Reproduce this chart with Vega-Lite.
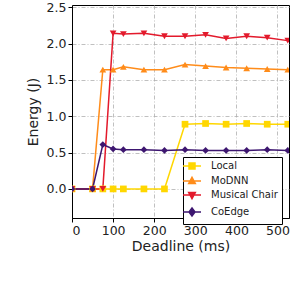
{
  "$schema": "https://vega.github.io/schema/vega-lite/v6.json",
  "width": 217,
  "height": 213,
  "autosize": {"type": "none"},
  "padding": {"left": 72, "top": 5, "right": 1, "bottom": 72},
  "background": "white",
  "config": {
    "font": "DejaVu Sans",
    "view": {"stroke": "black", "strokeWidth": 1},
    "axis": {
      "labelFont": "DejaVu Sans", "titleFont": "DejaVu Sans",
      "labelFontSize": 12.5, "titleFontSize": 14, "titleFontWeight": "normal",
      "labelColor": "#222", "titleColor": "#222",
      "domainColor": "black", "tickColor": "black", "tickSize": 4,
      "gridColor": "#b0b0b0", "gridDash": [4, 2, 1, 2], "gridWidth": 0.8,
      "labelPadding": 2
    }
  },
  "data": {"values": [
    {"d": 0, "s": "Local", "e": 0}, {"d": 50, "s": "Local", "e": 0}, {"d": 75, "s": "Local", "e": 0}, {"d": 100, "s": "Local", "e": 0}, {"d": 125, "s": "Local", "e": 0}, {"d": 175, "s": "Local", "e": 0}, {"d": 225, "s": "Local", "e": 0}, {"d": 275, "s": "Local", "e": 0.89}, {"d": 325, "s": "Local", "e": 0.9}, {"d": 375, "s": "Local", "e": 0.89}, {"d": 425, "s": "Local", "e": 0.9}, {"d": 475, "s": "Local", "e": 0.89}, {"d": 525, "s": "Local", "e": 0.89},
    {"d": 0, "s": "MoDNN", "e": 0}, {"d": 50, "s": "MoDNN", "e": 0}, {"d": 75, "s": "MoDNN", "e": 1.64}, {"d": 100, "s": "MoDNN", "e": 1.64}, {"d": 125, "s": "MoDNN", "e": 1.68}, {"d": 175, "s": "MoDNN", "e": 1.64}, {"d": 225, "s": "MoDNN", "e": 1.64}, {"d": 275, "s": "MoDNN", "e": 1.71}, {"d": 325, "s": "MoDNN", "e": 1.69}, {"d": 375, "s": "MoDNN", "e": 1.67}, {"d": 425, "s": "MoDNN", "e": 1.66}, {"d": 475, "s": "MoDNN", "e": 1.65}, {"d": 525, "s": "MoDNN", "e": 1.64},
    {"d": 0, "s": "Musical Chair", "e": 0}, {"d": 50, "s": "Musical Chair", "e": 0}, {"d": 75, "s": "Musical Chair", "e": 0}, {"d": 100, "s": "Musical Chair", "e": 2.14}, {"d": 125, "s": "Musical Chair", "e": 2.13}, {"d": 175, "s": "Musical Chair", "e": 2.14}, {"d": 225, "s": "Musical Chair", "e": 2.1}, {"d": 275, "s": "Musical Chair", "e": 2.1}, {"d": 325, "s": "Musical Chair", "e": 2.12}, {"d": 375, "s": "Musical Chair", "e": 2.07}, {"d": 425, "s": "Musical Chair", "e": 2.1}, {"d": 475, "s": "Musical Chair", "e": 2.08}, {"d": 525, "s": "Musical Chair", "e": 2.04},
    {"d": 0, "s": "CoEdge", "e": 0}, {"d": 50, "s": "CoEdge", "e": 0}, {"d": 75, "s": "CoEdge", "e": 0.61}, {"d": 100, "s": "CoEdge", "e": 0.55}, {"d": 125, "s": "CoEdge", "e": 0.54}, {"d": 175, "s": "CoEdge", "e": 0.54}, {"d": 225, "s": "CoEdge", "e": 0.53}, {"d": 275, "s": "CoEdge", "e": 0.54}, {"d": 325, "s": "CoEdge", "e": 0.53}, {"d": 375, "s": "CoEdge", "e": 0.53}, {"d": 425, "s": "CoEdge", "e": 0.53}, {"d": 475, "s": "CoEdge", "e": 0.54}, {"d": 525, "s": "CoEdge", "e": 0.53}
  ]},
  "encoding": {
    "x": {"field": "d", "type": "quantitative", "title": "Deadline (ms)",
      "scale": {"domain": [0, 528], "nice": false, "zero": false},
      "axis": {"values": [0, 100, 200, 300, 400, 500], "titlePadding": 3}},
    "y": {"field": "e", "type": "quantitative", "title": "Energy (J)",
      "scale": {"domain": [-0.4, 2.53], "nice": false, "zero": false},
      "axis": {"values": [0, 0.5, 1, 1.5, 2, 2.5], "format": ".1f", "titlePadding": 6}},
    "color": {"field": "s", "type": "nominal", "title": null,
      "scale": {"domain": ["Local", "MoDNN", "Musical Chair", "CoEdge"], "range": ["#FFD700", "#FF8C1A", "#E31A2C", "#3D1670"]},
      "legend": {"orient": "none", "legendX": 111, "legendY": 152, "fillColor": "white", "strokeColor": "black", "padding": 4, "cornerRadius": 0, "labelFont": "DejaVu Sans", "labelFontSize": 10, "labelColor": "#222", "symbolSize": 36, "rowPadding": 2, "symbolStrokeWidth": 1.5, "symbolOpacity": 1, "labelOffset": 14, "symbolOffset": 0,
        "encode": {"symbols": {"update": {
          "shape": {"signal": "datum.value === 'Local' ? 'M-3,0H3M-1,-1H1V1H-1Z' : datum.value === 'MoDNN' ? 'M-3,0H3M0,-1.2L1.1,0.8H-1.1Z' : datum.value === 'Musical Chair' ? 'M-3,0H3M0,1.2L1.1,-0.8H-1.1Z' : 'M-3,0H3M0,-1.35L1,0L0,1.35L-1,0Z'"},
          "stroke": {"scale": "color", "field": "value"},
          "fill": {"scale": "color", "field": "value"}
        }}}}}
  },
  "layer": [
    {"mark": {"type": "line", "strokeWidth": 1.5, "clip": true}},
    {"transform": [{"filter": "datum.s === 'Local'"}], "mark": {"type": "point", "shape": "square", "filled": true, "size": 45, "opacity": 1, "clip": true}},
    {"transform": [{"filter": "datum.s === 'MoDNN'"}], "mark": {"type": "point", "shape": "triangle-up", "filled": true, "size": 45, "opacity": 1, "clip": true}},
    {"transform": [{"filter": "datum.s === 'Musical Chair'"}], "mark": {"type": "point", "shape": "triangle-down", "filled": true, "size": 45, "opacity": 1, "clip": true}},
    {"transform": [{"filter": "datum.s === 'CoEdge'"}], "mark": {"type": "point", "shape": "diamond", "filled": true, "size": 45, "opacity": 1, "clip": true}}
  ]
}
